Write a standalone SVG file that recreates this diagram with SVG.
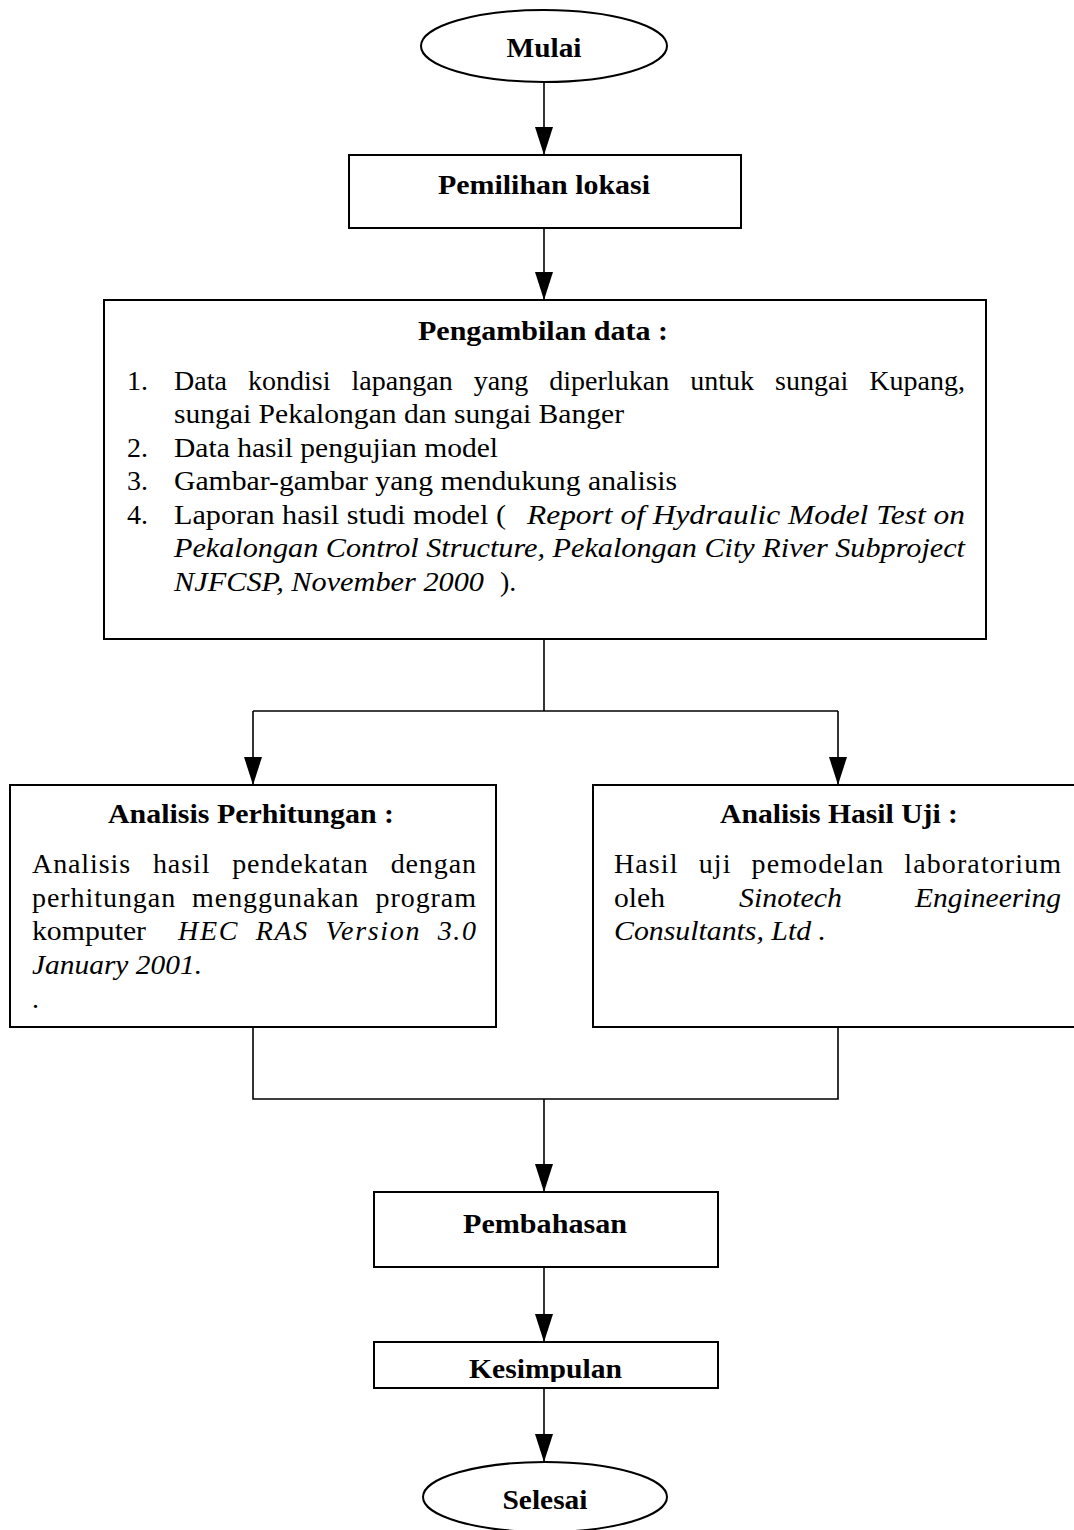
<svg xmlns="http://www.w3.org/2000/svg" width="1074" height="1530" viewBox="0 0 1074 1530" font-family="Liberation Serif, Times New Roman, serif">
<style>
.box{fill:#fff;stroke:#000;stroke-width:2}
.con{fill:none;stroke:#000;stroke-width:1.6}
text{font-size:28px;fill:#000}
.b{font-weight:bold;font-size:27px}
.i{font-style:italic}
</style>
<defs>
<clipPath id="kclip"><rect x="374" y="1342" width="344" height="40"/></clipPath>
</defs>
<rect width="1074" height="1530" fill="#fff"/>
<g id="connectors">
<path class="con" d="M544 82 V155"/>
<path class="con" d="M544 228 V300"/>
<path class="con" d="M544 639 V711"/>
<path class="con" d="M253 711 H838"/>
<path class="con" d="M253 711 V785"/>
<path class="con" d="M838 711 V785"/>
<path class="con" d="M253 1027 V1099 H838 V1027"/>
<path class="con" d="M544 1099 V1192"/>
<path class="con" d="M544 1267 V1342"/>
<path class="con" d="M544 1388 V1462"/>
<g fill="#000">
<path d="M535 127 H553 L544 155 Z"/>
<path d="M535 272 H553 L544 300 Z"/>
<path d="M244 757 H262 L253 785 Z"/>
<path d="M829 757 H847 L838 785 Z"/>
<path d="M535 1164 H553 L544 1192 Z"/>
<path d="M535 1314 H553 L544 1342 Z"/>
<path d="M535 1434 H553 L544 1462 Z"/>
</g>
</g>
<g id="mulai">
<ellipse class="box" cx="544" cy="46" rx="123" ry="36"/>
<text class="b" x="544" y="57" text-anchor="middle" textLength="75" lengthAdjust="spacingAndGlyphs">Mulai</text>
</g>
<g id="pemilihan">
<rect class="box" x="349" y="155" width="392" height="73"/>
<text class="b" x="438" y="194" textLength="212" lengthAdjust="spacingAndGlyphs">Pemilihan lokasi</text>
</g>
<g id="pengambilan">
<rect class="box" x="104" y="300" width="882" height="339"/>
<text class="b" x="418" y="340" textLength="250" lengthAdjust="spacingAndGlyphs">Pengambilan data :</text>
<text x="127" y="390">1.</text>
<text x="174" y="390" textLength="791" lengthAdjust="spacing" word-spacing="14">Data kondisi lapangan yang diperlukan untuk sungai Kupang,</text>
<text x="174" y="423" textLength="450" lengthAdjust="spacingAndGlyphs">sungai Pekalongan dan sungai Banger</text>
<text x="127" y="457">2.</text>
<text x="174" y="457" textLength="324" lengthAdjust="spacingAndGlyphs">Data hasil pengujian model</text>
<text x="127" y="490">3.</text>
<text x="174" y="490" textLength="503" lengthAdjust="spacingAndGlyphs">Gambar-gambar yang mendukung analisis</text>
<text x="127" y="524">4.</text>
<text x="174" y="524" textLength="332" lengthAdjust="spacingAndGlyphs">Laporan hasil studi model (</text>
<text class="i" x="527" y="524" textLength="438" lengthAdjust="spacingAndGlyphs">Report of Hydraulic Model Test on</text>
<text class="i" x="174" y="557" textLength="791" lengthAdjust="spacingAndGlyphs">Pekalongan Control Structure, Pekalongan City River Subproject</text>
<text class="i" x="174" y="591" textLength="310" lengthAdjust="spacingAndGlyphs">NJFCSP, November 2000</text>
<text x="500" y="591">).</text>
</g>
<g id="analisis-perhitungan">
<rect class="box" x="10" y="785" width="486" height="242"/>
<text class="b" x="108" y="823" textLength="286" lengthAdjust="spacingAndGlyphs">Analisis Perhitungan :</text>
<text x="32" y="873" textLength="444" lengthAdjust="spacing" word-spacing="14">Analisis hasil pendekatan dengan</text>
<text x="32" y="907" textLength="444" lengthAdjust="spacing" word-spacing="8">perhitungan menggunakan program</text>
<text x="32" y="940" textLength="114" lengthAdjust="spacingAndGlyphs">komputer</text>
<text class="i" x="178" y="940" textLength="298" lengthAdjust="spacing" word-spacing="8">HEC RAS Version 3.0</text>
<text class="i" x="32" y="974" textLength="170" lengthAdjust="spacingAndGlyphs">January 2001.</text>
<text x="32" y="1008">.</text>
</g>
<g id="analisis-hasil-uji">
<rect class="box" x="593" y="785" width="484" height="242"/>
<text class="b" x="720" y="823" textLength="238" lengthAdjust="spacingAndGlyphs">Analisis Hasil Uji :</text>
<text x="614" y="873" textLength="447" lengthAdjust="spacing" word-spacing="12">Hasil uji pemodelan laboratorium</text>
<text x="614" y="907" textLength="51" lengthAdjust="spacingAndGlyphs">oleh</text>
<text class="i" x="739" y="907" textLength="103" lengthAdjust="spacingAndGlyphs">Sinotech</text>
<text class="i" x="915" y="907" textLength="146" lengthAdjust="spacingAndGlyphs">Engineering</text>
<text class="i" x="614" y="940" textLength="212" lengthAdjust="spacingAndGlyphs">Consultants, Ltd .</text>
</g>
<g id="pembahasan">
<rect class="box" x="374" y="1192" width="344" height="75"/>
<text class="b" x="463" y="1233" textLength="164" lengthAdjust="spacingAndGlyphs">Pembahasan</text>
</g>
<g id="kesimpulan">
<rect class="box" x="374" y="1342" width="344" height="46"/>
<text class="b" x="469" y="1378" textLength="153" lengthAdjust="spacingAndGlyphs" clip-path="url(#kclip)">Kesimpulan</text>
</g>
<g id="selesai">
<ellipse class="box" cx="545" cy="1497" rx="122" ry="35"/>
<text class="b" x="545" y="1509" text-anchor="middle" textLength="85" lengthAdjust="spacingAndGlyphs">Selesai</text>
</g>
</svg>
